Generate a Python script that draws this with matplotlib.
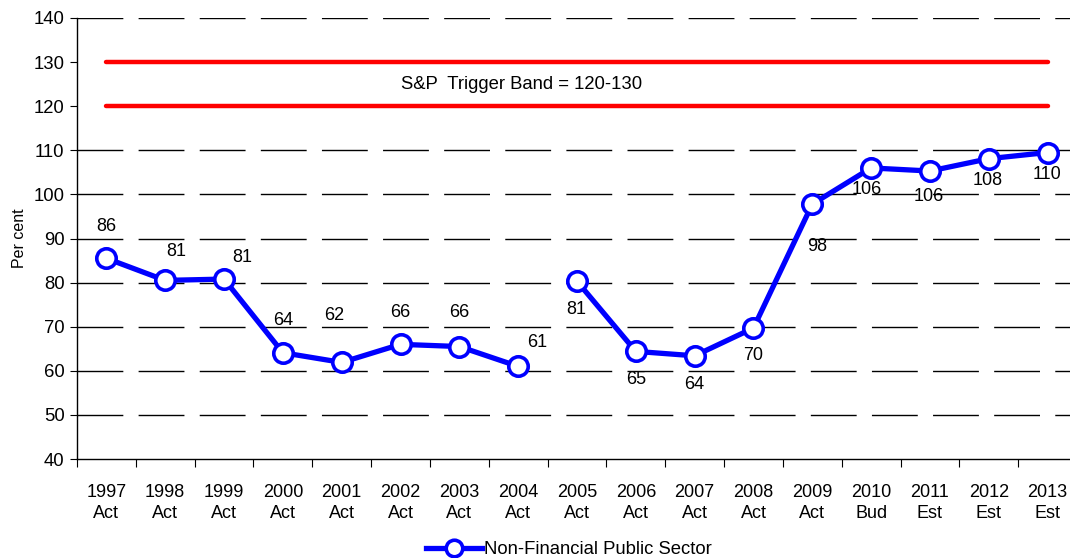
import numpy as np
import matplotlib
matplotlib.use("Agg")
import matplotlib.pyplot as plt

plt.rcParams['font.family'] = ['Liberation Sans', 'DejaVu Sans']
plt.rcParams['lines.scale_dashes'] = False

# Data
years = ["1997", "1998", "1999", "2000", "2001", "2002", "2003", "2004",
         "2005", "2006", "2007", "2008", "2009", "2010", "2011", "2012", "2013"]
status = ["Act", "Act", "Act", "Act", "Act", "Act", "Act", "Act",
          "Act", "Act", "Act", "Act", "Act", "Bud", "Est", "Est", "Est"]
values = [85.5, 80.5, 80.8, 64.1, 61.9, 66.0, 65.5, 61.0,
          80.3, 64.4, 63.4, 69.7, 97.8, 106.0, 105.3, 108.1, 109.5]
value_labels = ["86", "81", "81", "64", "62", "66", "66", "61",
                "81", "65", "64", "70", "98", "106", "106", "108", "110"]
break_after = 7  # line is broken between 2004 and 2005
band_low, band_high = 120, 130
band_text = "S&P  Trigger Band = 120-130"

# label offsets in pixels (dx, dy) relative to each point
label_offsets = [(0, 32), (11, 29), (18, 22), (0, 32), (-8, 47), (0, 32), (0, 34), (19, 24),
                 (-1, -28), (0, -28), (0, -29), (0, -27), (5, -42), (-4, -22), (-1, -25), (-1, -22), (-1, -22)]

fig = plt.figure(figsize=(10.70, 5.58), dpi=100)
ax = fig.add_axes([77 / 1070, 1 - 459 / 558, 1000 / 1070, 441 / 558])

x = np.arange(len(years))
blue = "#0000FF"

# grid
for yv in range(50, 150, 10):
    if yv in (band_low, band_high):
        continue
    ax.axhline(yv, color="black", lw=1.0, dashes=(33, 11), zorder=1)

# trigger band
ax.plot([x[0], x[-1]], [band_low, band_low], color="#FF0000", lw=3.2, solid_capstyle="round", zorder=2)
ax.plot([x[0], x[-1]], [band_high, band_high], color="#FF0000", lw=3.2, solid_capstyle="round", zorder=2)
ax.text(7.05, 124.9, band_text, ha="center", va="center", fontsize=13.3)

marker_style = dict(color=blue, lw=3.8, marker="o", ms=14, mfc="white", mec=blue, mew=2.6, zorder=3)
ax.plot(x[:break_after + 1], values[:break_after + 1], label="Non-Financial Public Sector", **marker_style)
ax.plot(x[break_after + 1:], values[break_after + 1:], **marker_style)

for xi, v, lab, (dx, dy) in zip(x, values, value_labels, label_offsets):
    ax.annotate(lab, (xi, v), xytext=(dx * 0.72, dy * 0.72), textcoords="offset points",
                ha="center", va="center", fontsize=13)

ax.set_xlim(-0.5, len(years) - 0.5)
ax.set_ylim(40, 140)
ax.set_yticks(range(40, 150, 10))
ax.tick_params(axis="y", labelsize=13.3, length=5, width=0.8, direction="out", pad=4)

ax.set_xticks(x)
ax.set_xticklabels([f"{y}\n{s}" for y, s in zip(years, status)], fontsize=13, linespacing=1.3)
ax.set_xticks(np.arange(-0.5, len(years), 1), minor=True)
ax.tick_params(axis="x", which="major", length=0, pad=18)
ax.tick_params(axis="x", which="minor", length=6, width=0.8, direction="out")

ax.set_ylabel("Per cent", fontsize=11.5, labelpad=5)

for side in ("top", "right"):
    ax.spines[side].set_visible(False)
for side in ("left", "bottom"):
    ax.spines[side].set_linewidth(1.0)

ax.legend(loc="upper center", bbox_to_anchor=(569 / 1070, 26 / 558), bbox_transform=fig.transFigure,
          frameon=False, fontsize=13.3, handlelength=3.0, handletextpad=0.1, borderpad=0,
          markerscale=0.85)

fig.savefig("out.png", dpi=100)
